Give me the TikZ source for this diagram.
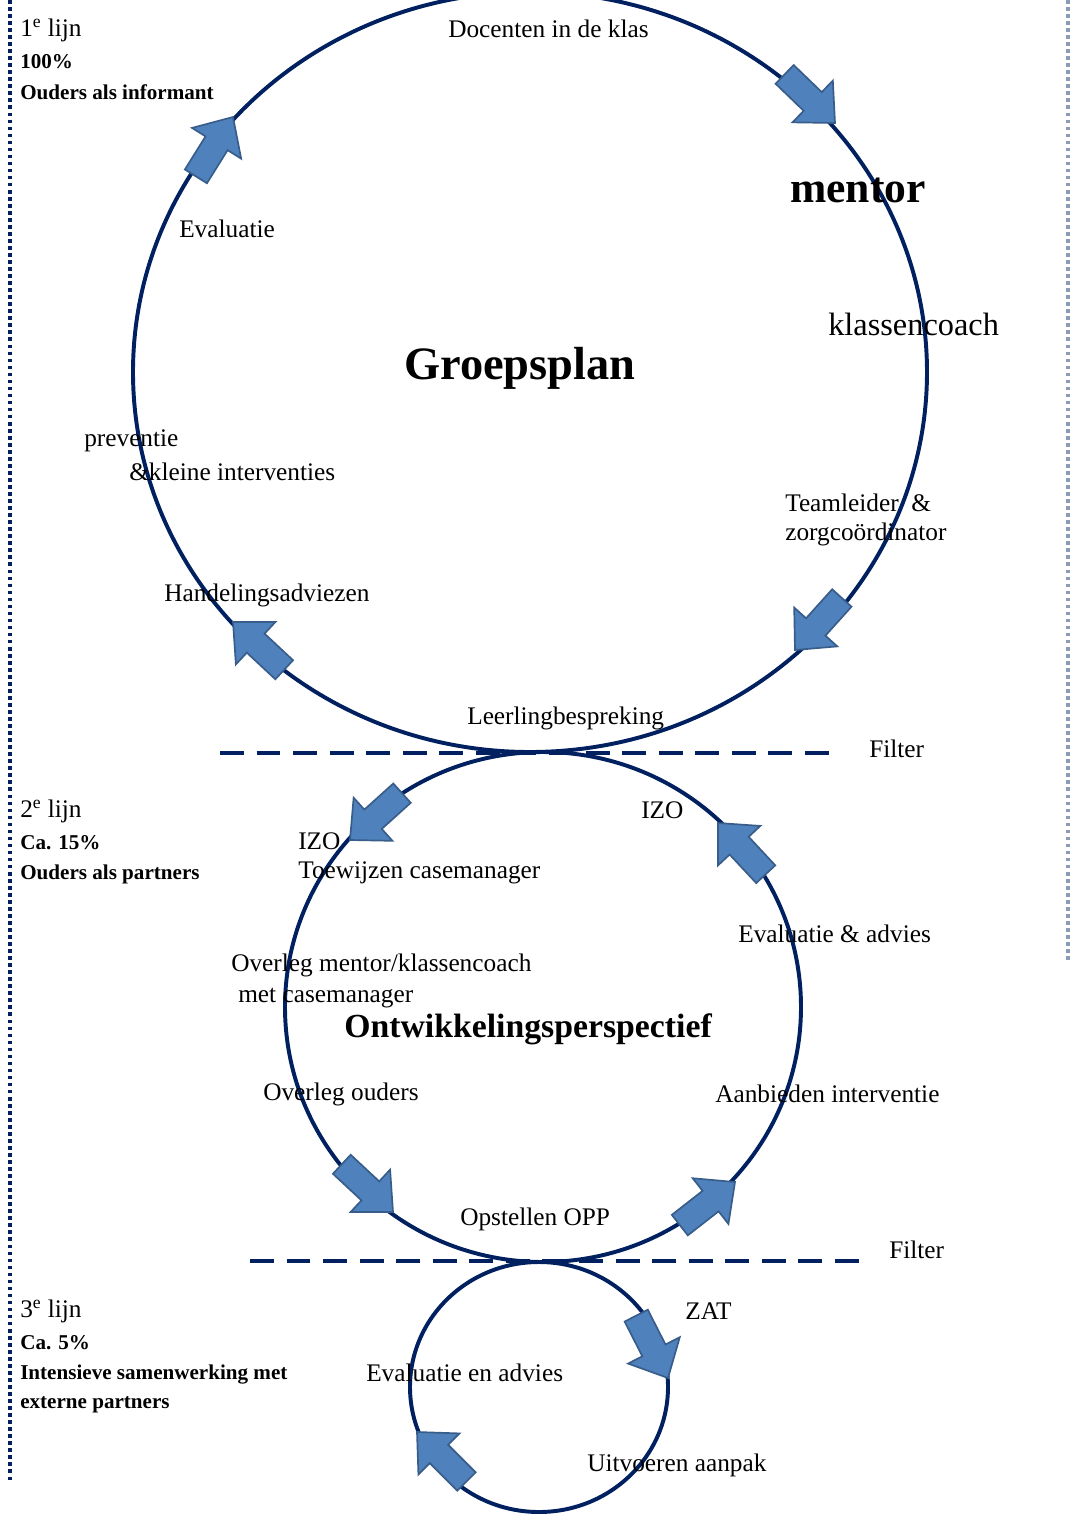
\documentclass[tikz,border=0pt]{standalone}
\usepackage{fontspec}
\setmainfont{Liberation Serif}
\definecolor{lijnblauw}{RGB}{0,32,96}
\definecolor{pijlvul}{RGB}{79,129,189}
\definecolor{pijlrand}{RGB}{56,93,138}
\tikzset{
    cirkel/.style={draw=lijnblauw,line width=2.8pt},
    filterlijn/.style={draw=lijnblauw,line width=2.8pt,dash pattern=on 17pt off 9pt},
    grenslijn/.style={draw=lijnblauw,line width=2.8pt,dash pattern=on 2.6pt off 2.4pt},
    label/.style={anchor=west,inner sep=0pt,font=\fontsize{18}{20}\selectfont},
    lijnlabel/.style={anchor=west,inner sep=0pt,font=\fontsize{15}{17}\selectfont\bfseries},
    pics/pijl/.style={code={
        \draw[draw=pijlrand,fill=pijlvul,line width=1.2pt,line join=miter]
            (0,0) -- (-31,29) -- (-31,13) -- (-70,13) -- (-70,-13) -- (-31,-13) -- (-31,-29) -- cycle;
    }}
}
\begin{document}
\begin{tikzpicture}[x=0.025cm,y=-0.025cm]
    \useasboundingbox (0,0) rectangle (1071,1515);
    % cirkels
    \draw[cirkel] (530,372) ellipse [x radius=397,y radius=380];
    \draw[cirkel] (543,1007) ellipse [x radius=258,y radius=255];
    \draw[cirkel] (539,1387) ellipse [x radius=129,y radius=125];
    % filters en kantlijnen
    \draw[filterlijn] (220,753) -- (830,753);
    \draw[filterlijn] (250,1261) -- (860,1261);
    \draw[grenslijn] (10,0) -- (10,1480);
    \draw[grenslijn,draw=lijnblauw!45] (1068,0) -- (1068,960);
    % pijlen
    \pic[rotate=-44] at (835,123) {pijl};
    \pic[rotate=58] at (233,117) {pijl};
    \pic[rotate=-132] at (795,650) {pijl};
    \pic[rotate=137] at (233,622) {pijl};
    \pic[rotate=-138] at (350,840) {pijl};
    \pic[rotate=133] at (718,823) {pijl};
    \pic[rotate=-43] at (393,1212) {pijl};
    \pic[rotate=38] at (735,1182) {pijl};
    \pic[rotate=-63] at (668,1378) {pijl};
    \pic[rotate=135] at (417,1432) {pijl};
    % 1e lijn
    \node[label] (lijn1) at (20,30) {1\textsuperscript{e} lijn};
    \node[lijnlabel] (perc1) at (20,62) {100\%};
    \node[lijnlabel] (ouders1) at (20,92) {Ouders als informant};
    \node[label] (docenten) at (448,29) {Docenten in de klas};
    \node[anchor=west,inner sep=0pt,font=\fontsize{31}{33}\selectfont\bfseries] (mentor) at (790,190) {mentor};
    \node[label] (evaluatie1) at (179,229) {Evaluatie};
    \node[anchor=west,inner sep=0pt,font=\fontsize{23}{25}\selectfont] (klassencoach) at (828,324) {klassencoach};
    \node[anchor=west,inner sep=0pt,font=\fontsize{33}{35}\selectfont\bfseries] (groepsplan) at (404,368) {Groepsplan};
    \node[label] (preventie) at (84,441) {preventie};
    \node[label] (interventies) at (129,472) {\&kleine interventies};
    \node[label] (teamleider) at (785,503) {Teamleider \ \&};
    \node[label] (zorg) at (785,534) {zorgcoördinator};
    \node[label] (handeling) at (164,595) {Handelingsadviezen};
    \node[label] (bespreking) at (467,718) {Leerlingbespreking};
    \node[label] (filter1) at (869,749) {Filter};
    % 2e lijn
    \node[label] (lijn2) at (20,811) {2\textsuperscript{e} lijn};
    \node[lijnlabel] (perc2) at (20,843) {Ca. 15\%};
    \node[lijnlabel] (ouders2) at (20,874) {Ouders als partners};
    \node[label] (izo1) at (298,841) {IZO};
    \node[label] (toewijzen) at (298,873) {Toewijzen casemanager};
    \node[label] (izo2) at (641,810) {IZO};
    \node[label] (evaluatie2) at (738,934) {Evaluatie \& advies};
    \node[label] (overleg1) at (231,965) {Overleg mentor/klassencoach};
    \node[label] (overleg2) at (238,998) {met casemanager};
    \node[anchor=west,inner sep=0pt,font=\fontsize{24}{26}\selectfont\bfseries] (opp) at (344,1029) {Ontwikkelingsperspectief};
    \node[label] (overlegouders) at (263,1094) {Overleg ouders};
    \node[label] (aanbieden) at (715,1094) {Aanbieden interventie};
    \node[label] (opstellen) at (460,1219) {Opstellen OPP};
    \node[label] (filter2) at (889,1250) {Filter};
    % 3e lijn
    \node[label] (lijn3) at (20,1311) {3\textsuperscript{e} lijn};
    \node[lijnlabel] (perc3) at (20,1343) {Ca. 5\%};
    \node[lijnlabel] (intensief) at (20,1374) {Intensieve samenwerking met};
    \node[lijnlabel] (extern) at (20,1405) {externe partners};
    \node[label] (zat) at (685,1311) {ZAT};
    \node[label] (evaluatie3) at (366,1373) {Evaluatie en advies};
    \node[label] (uitvoeren) at (587,1465) {Uitvoeren aanpak};
\end{tikzpicture}
\end{document}
